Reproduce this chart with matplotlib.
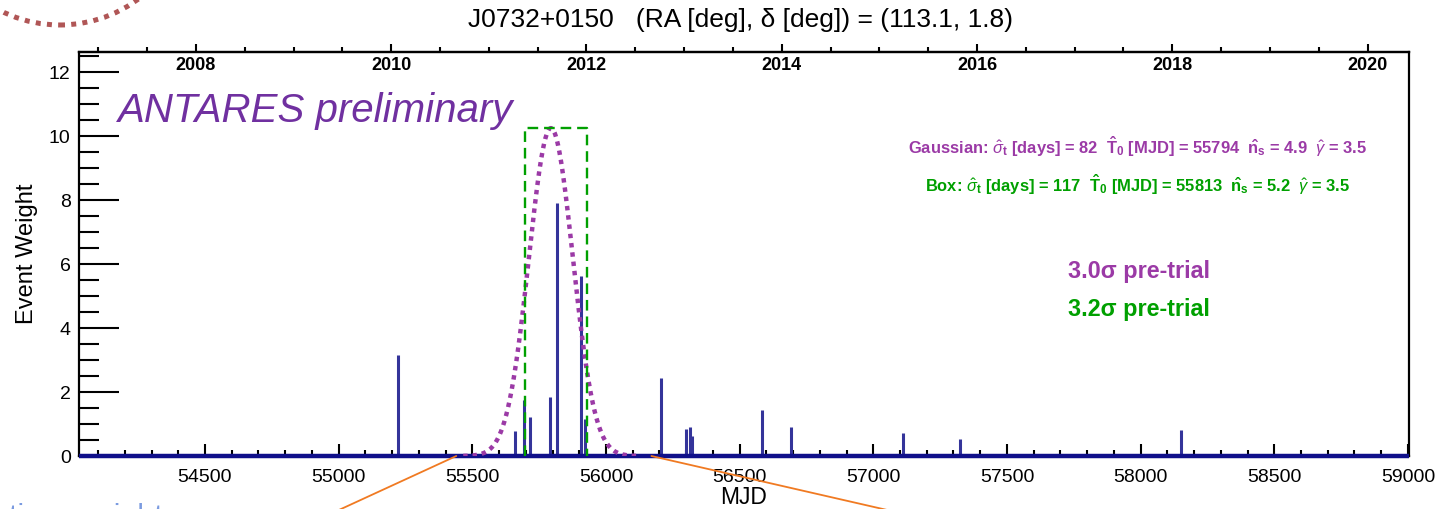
import numpy as np
import matplotlib
matplotlib.use("Agg")
import matplotlib.pyplot as plt
from matplotlib.ticker import MultipleLocator, FixedLocator
from matplotlib.patches import Ellipse, ConnectionPatch

plt.rcParams['font.family'] = ['Liberation Sans', 'DejaVu Sans']
plt.rcParams['mathtext.fontset'] = 'custom'
plt.rcParams['mathtext.rm'] = 'Liberation Sans'
plt.rcParams['mathtext.it'] = 'Liberation Sans:italic'
plt.rcParams['mathtext.bf'] = 'Liberation Sans:bold'

# ---- data -------------------------------------------------------------
source_name = "J0732+0150"
ra_deg, dec_deg = 113.1, 1.8

event_mjd = [55222, 55660, 55695, 55715, 55792, 55815, 55906, 55922,
             56206, 56299, 56315, 56323, 56585, 56691, 57112, 57323, 58150]
event_weight = [3.16, 0.79, 1.75, 1.21, 1.85, 7.90, 5.63, 1.16,
                2.43, 0.84, 0.90, 0.63, 1.44, 0.90, 0.72, 0.54, 0.81]

gauss_sigma, gauss_t0, gauss_ns, gauss_gamma = 82, 55794, 4.9, 3.5
box_sigma, box_t0, box_ns, box_gamma = 117, 55813, 5.2, 3.5
flare_height = 10.25
gauss_signif, box_signif = 3.0, 3.2

mjd_range = (54029, 59004)
mjd_ticks = [54500, 55000, 55500, 56000, 56500, 57000, 57500, 58000, 58500, 59000]
year_ticks = [2008, 2010, 2012, 2014, 2016, 2018, 2020]
mjd_2008 = 54466.0

# ---- colours ------------------------------------------------------------
c_bar = '#34349a'
c_base = '#10108a'
c_gauss = '#9b3aa6'
c_box = '#00a000'
c_prelim = '#7030a0'

fig = plt.figure(figsize=(14.35, 5.09), dpi=100)
ax = fig.add_axes([0.0551, 0.1041, 0.9268, 0.7937])

# event weights
ax.vlines(event_mjd, 0, event_weight, color=c_bar, lw=2.2, zorder=3)
ax.hlines(0, mjd_range[0], mjd_range[1], color=c_base, lw=3.2, zorder=4, clip_on=False)

# gaussian flare
t = np.linspace(gauss_t0 - 4 * gauss_sigma, gauss_t0 + 4 * gauss_sigma, 400)
g = flare_height * np.exp(-0.5 * ((t - gauss_t0) / gauss_sigma) ** 2)
ax.plot(t, g, color=c_gauss, lw=3.2, ls=(0, (1, 1.1)), dash_capstyle='butt', zorder=5)

# box flare
b0, b1 = box_t0 - box_sigma, box_t0 + box_sigma
ax.plot([b0, b0, b1, b1], [0, flare_height, flare_height, 0], color=c_box,
        lw=1.7, ls=(0, (4.5, 2.5)), zorder=5)

ax.set_xlim(*mjd_range)
ax.set_ylim(0, 12.63)

for s in ax.spines.values():
    s.set_linewidth(1.6)

ax.xaxis.set_major_locator(FixedLocator(mjd_ticks))
ax.xaxis.set_minor_locator(MultipleLocator(100))
ax.yaxis.set_major_locator(MultipleLocator(2))
ax.yaxis.set_minor_locator(MultipleLocator(0.5))
ax.tick_params(axis='x', which='major', direction='in', length=8.5, width=1.5,
               labelsize=14, pad=9, top=False)
ax.tick_params(axis='x', which='minor', direction='in', length=4.3, width=1.5, top=False)
ax.tick_params(axis='y', which='major', direction='in', length=28.8, width=1.5,
               labelsize=14, pad=6, right=False)
ax.tick_params(axis='y', which='minor', direction='in', length=14.4, width=1.5, right=False)

ax.set_xlabel("MJD", fontsize=16.5, labelpad=0.5)
ax.set_ylabel("Event Weight", fontsize=17, labelpad=8)

# calendar-year axis on top
def mjd_to_year(m):
    return 2008 + (np.asarray(m) - mjd_2008) / 365.25

def year_to_mjd(y):
    return mjd_2008 + (np.asarray(y) - 2008) * 365.25

sec = ax.secondary_xaxis('top', functions=(mjd_to_year, year_to_mjd))
sec.xaxis.set_major_locator(FixedLocator(year_ticks))
sec.xaxis.set_minor_locator(MultipleLocator(0.5))
sec.tick_params(which='major', direction='out', length=6, width=1.5,
                labelsize=13, pad=-21.5)
sec.tick_params(which='minor', direction='out', length=3.5, width=1.5)
for lab in sec.get_xticklabels():
    lab.set_fontweight('bold')
sec.spines['top'].set_linewidth(1.6)

# texts
fig.text(0.5160, 0.961, f"{source_name}   (RA [deg], δ [deg]) = ({ra_deg}, {dec_deg})",
         ha='center', va='center', fontsize=19)
ax.text(0.029, 0.855, "ANTARES preliminary", transform=ax.transAxes, fontsize=29,
        style='italic', color=c_prelim, ha='left', va='center')

gtxt = (r"Gaussian: $\hat{\sigma}_{\mathbf{t}}$ [days] = " + f"{gauss_sigma}" +
        r"  $\mathbf{\hat{T}_0}$ [MJD] = " + f"{gauss_t0}" +
        r"  $\mathbf{\hat{n}_s}$ = " + f"{gauss_ns}" +
        r"  $\hat{\gamma}$ = " + f"{gauss_gamma}")
btxt = (r"Box: $\hat{\sigma}_{\mathbf{t}}$ [days] = " + f"{box_sigma}" +
        r"  $\mathbf{\hat{T}_0}$ [MJD] = " + f"{box_t0}" +
        r"  $\mathbf{\hat{n}_s}$ = " + f"{box_ns}" +
        r"  $\hat{\gamma}$ = " + f"{box_gamma}")
ax.text(0.7963, 0.764, gtxt, transform=ax.transAxes, fontsize=11.9, fontweight='bold',
        color=c_gauss, ha='center', va='center')
ax.text(0.7963, 0.672, btxt, transform=ax.transAxes, fontsize=11.9, fontweight='bold',
        color=c_box, ha='center', va='center')
ax.text(0.7969, 0.456, f"{gauss_signif}σ pre-trial", transform=ax.transAxes,
        fontsize=16.8, fontweight='bold', color=c_gauss, ha='center', va='center')
ax.text(0.7969, 0.362, f"{box_signif}σ pre-trial", transform=ax.transAxes,
        fontsize=16.8, fontweight='bold', color=c_box, ha='center', va='center')

# slide decorations around the plot
arc = Ellipse((60 / 1435, (509 + 106) / 509), 2 * 131 / 1435, 2 * 131 / 509,
              transform=fig.transFigure, fill=False, ec='#b05656', lw=3.6,
              ls=(0, (1, 1.25)), clip_on=False)
fig.add_artist(arc)
for m0, xf in [(55440, 330 / 1435), (56170, 905 / 1435)]:
    con = ConnectionPatch(xyA=(m0, 0), coordsA=ax.transData,
                          xyB=(xf, -0.01), coordsB=fig.transFigure,
                          color='#f07a22', lw=1.3, zorder=10)
    fig.add_artist(con)
fig.text(0.006, 0.012, "time weights", fontsize=22, color='#7b9be0', ha='left', va='top')

fig.savefig("out.png", dpi=100)
